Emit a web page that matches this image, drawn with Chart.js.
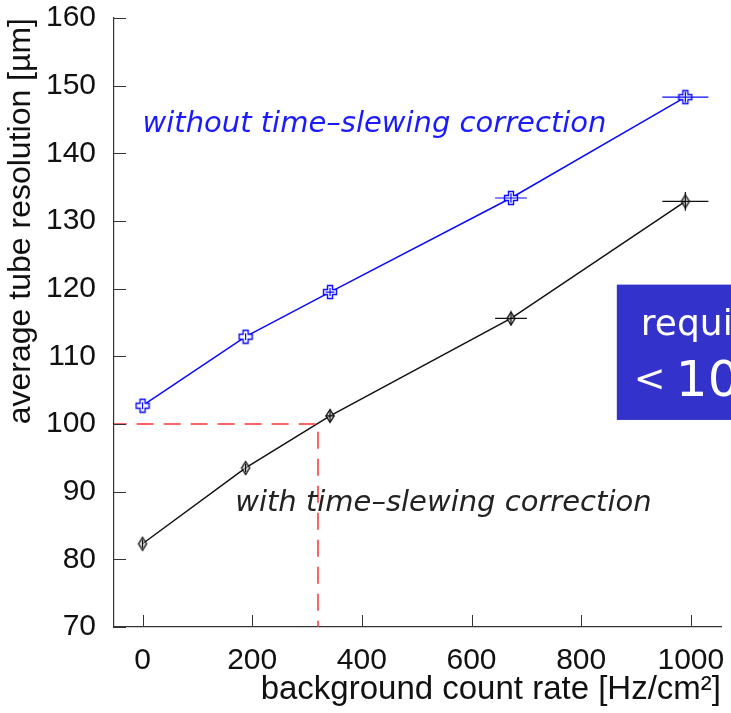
<!DOCTYPE html>
<html>
<head>
<meta charset="utf-8">
<script src="https://cdn.jsdelivr.net/npm/chart.js@4/dist/chart.umd.min.js"></script>
<style>
  html, body { margin: 0; padding: 0; background: #fff; }
  #wrap { width: 731px; height: 713px; }
</style>
</head>
<body>
<div id="wrap"><canvas id="res" width="731" height="713"></canvas></div>
<script>
// background rate [Hz/cm2] and average tube resolution [um]
const rate = [0, 188, 342, 672, 990];
const rateErr = [0, 0, 8, 29, 42];
const withoutCorr = [102.7, 112.9, 119.5, 133.4, 148.3];
const withoutErr = [0.5, 0.5, 0.6, 0.7, 0.8];
const withCorr = [82.3, 93.5, 101.2, 115.6, 132.9];
const withErr = [0.6, 0.6, 0.8, 1.0, 1.4];

const xTicks = [0, 200, 400, 600, 800, 1000];
const yTicks = [70, 80, 90, 100, 110, 120, 130, 140, 150, 160];

// requirement marker: 100 um reached at ~320 Hz/cm2
const refRate = 320;
const refRes = 100;

const pts = (xs, ys) => xs.map((x, i) => ({ x: x, y: ys[i] }));

// open plus marker
function plusMarker(color) {
  const c = document.createElement("canvas");
  c.width = 16; c.height = 16;
  const g = c.getContext("2d");
  g.strokeStyle = color;
  g.lineWidth = 1.4;
  const a = 2.5, b = 6.5, m = 8;
  g.beginPath();
  g.moveTo(m - a, m - b); g.lineTo(m + a, m - b); g.lineTo(m + a, m - a);
  g.lineTo(m + b, m - a); g.lineTo(m + b, m + a); g.lineTo(m + a, m + a);
  g.lineTo(m + a, m + b); g.lineTo(m - a, m + b); g.lineTo(m - a, m + a);
  g.lineTo(m - b, m + a); g.lineTo(m - b, m - a); g.lineTo(m - a, m - a);
  g.closePath();
  g.fillStyle = "#fff";
  g.fill();
  g.stroke();
  return c;
}

// narrow open diamond marker
function diamondMarker(color) {
  const c = document.createElement("canvas");
  c.width = 12; c.height = 16;
  const g = c.getContext("2d");
  g.strokeStyle = color;
  g.lineWidth = 1.4;
  g.beginPath();
  g.moveTo(6, 1.5); g.lineTo(10, 8); g.lineTo(6, 14.5); g.lineTo(2, 8);
  g.closePath();
  g.fillStyle = "rgba(200,200,200,0.6)";
  g.fill();
  g.stroke();
  return c;
}

// horizontal / vertical error bars
const errorBars = {
  id: "errorBars",
  afterDatasetsDraw(chart) {
    const { ctx, scales: { x, y } } = chart;
    chart.data.datasets.forEach((ds) => {
      if (!ds.xErr) return;
      ctx.save();
      ctx.strokeStyle = ds.borderColor;
      ctx.lineWidth = 1.2;
      ds.data.forEach((p, i) => {
        const px = x.getPixelForValue(p.x), py = y.getPixelForValue(p.y);
        ctx.beginPath();
        ctx.moveTo(x.getPixelForValue(p.x - ds.xErr[i]), py);
        ctx.lineTo(x.getPixelForValue(p.x + ds.xErr[i]), py);
        ctx.moveTo(px, y.getPixelForValue(p.y - ds.yErr[i]));
        ctx.lineTo(px, y.getPixelForValue(p.y + ds.yErr[i]));
        ctx.stroke();
      });
      ctx.restore();
    });
  },
};

// tick marks pointing into the plot area
const innerTicks = {
  id: "innerTicks",
  afterDraw(chart) {
    const { ctx, chartArea: a, scales: { x, y } } = chart;
    ctx.save();
    ctx.strokeStyle = "#333";
    ctx.lineWidth = 1;
    ctx.beginPath();
    yTicks.forEach((v) => {
      const py = Math.round(y.getPixelForValue(v)) + 0.5;
      ctx.moveTo(a.left, py);
      ctx.lineTo(a.left + 12, py);
    });
    xTicks.forEach((v) => {
      const px = Math.round(x.getPixelForValue(v)) + 0.5;
      ctx.moveTo(px, a.bottom);
      ctx.lineTo(px, a.bottom - 12);
    });
    ctx.stroke();
    ctx.restore();
  },
};

// scale a font so the text spans the given width
function fitFont(ctx, text, style, family, width) {
  ctx.font = style + " 30px " + family;
  const size = 30 * width / ctx.measureText(text).width;
  ctx.font = style + " " + size.toFixed(1) + "px " + family;
}

// curve labels and the requirement box
const notes = {
  id: "notes",
  afterDraw(chart) {
    const { ctx, scales: { x, y } } = chart;
    ctx.save();
    ctx.textBaseline = "alphabetic";
    ctx.textAlign = "left";
    const t1 = "without time\u2013slewing correction";
    const t2 = "with time\u2013slewing correction";
    fitFont(ctx, t1, "italic 200", "'DejaVu Sans'", 464);
    ctx.fillStyle = "#1a1aff";
    ctx.fillText(t1, x.getPixelForValue(0), y.getPixelForValue(143.1));
    ctx.fillStyle = "#222";
    ctx.fillText(t2, x.getPixelForValue(169), y.getPixelForValue(87.2));

    const bx = x.getPixelForValue(865), by = y.getPixelForValue(120.6);
    ctx.fillStyle = "#3333cc";
    ctx.fillRect(bx, by, 140, y.getPixelForValue(100.6) - by);
    ctx.fillStyle = "#fff";
    ctx.font = "36px 'DejaVu Sans'";
    ctx.fillText("required", bx + 24, by + 50);
    ctx.font = "38px 'DejaVu Sans'";
    ctx.fillText("<", bx + 17, by + 106);
    ctx.font = "50px 'DejaVu Sans'";
    ctx.fillText("100 \u00b5m", bx + 59, by + 111);
    ctx.restore();
  },
};

new Chart(document.getElementById("res"), {
  type: "scatter",
  data: {
    datasets: [
      {
        label: "reference",
        data: [{ x: -60, y: refRes }, { x: refRate, y: refRes }, { x: refRate, y: 60 }],
        showLine: true,
        borderColor: "#ff3030",
        borderWidth: 1.5,
        borderDash: [17, 10],
        pointRadius: 0,
      },
      {
        label: "without time-slewing correction",
        data: pts(rate, withoutCorr),
        xErr: rateErr,
        yErr: withoutErr,
        showLine: true,
        borderColor: "#0a0aff",
        borderWidth: 1.5,
        pointStyle: plusMarker("#0a0aff"),
      },
      {
        label: "with time-slewing correction",
        data: pts(rate, withCorr),
        xErr: rateErr,
        yErr: withErr,
        showLine: true,
        borderColor: "#111",
        borderWidth: 1.5,
        pointStyle: diamondMarker("#111"),
      },
    ],
  },
  options: {
    responsive: false,
    animation: false,
    layout: { padding: { top: 18, right: 10 } },
    plugins: {
      legend: { display: false },
      tooltip: { enabled: false },
    },
    scales: {
      x: {
        type: "linear",
        min: -52,
        max: 1055,
        afterBuildTicks: (s) => { s.ticks = xTicks.map((v) => ({ value: v })); },
        afterFit: (s) => { s.height = 86; s.paddingLeft = 0; s.paddingRight = 0; },
        grid: { display: false },
        border: { display: true, color: "#333", width: 1.2 },
        ticks: {
          color: "#111",
          font: { family: "Liberation Sans", size: 30 },
          padding: 8,
          maxRotation: 0,
          callback: (v) => String(v),
        },
        title: {
          display: true,
          text: "background count rate [Hz/cm\u00b2]",
          align: "end",
          color: "#111",
          font: { family: "Liberation Sans", size: 33 },
          padding: { top: 0, bottom: 3 },
        },
      },
      y: {
        min: 70,
        max: 160,
        afterBuildTicks: (s) => { s.ticks = yTicks.map((v) => ({ value: v })); },
        afterFit: (s) => { s.width = 114; s.paddingTop = 0; s.paddingBottom = 0; },
        grid: { display: false },
        border: { display: true, color: "#333", width: 1.2 },
        ticks: {
          color: "#111",
          font: { family: "Liberation Sans", size: 30 },
          padding: 10,
          callback: (v) => String(v),
        },
        title: {
          display: true,
          text: "average tube resolution [\u00b5m]",
          align: "end",
          color: "#111",
          font: { family: "Liberation Sans", size: 32 },
          padding: { top: 2, bottom: 0 },
        },
      },
    },
  },
  plugins: [errorBars, innerTicks, notes],
});
</script>
</body>
</html>
